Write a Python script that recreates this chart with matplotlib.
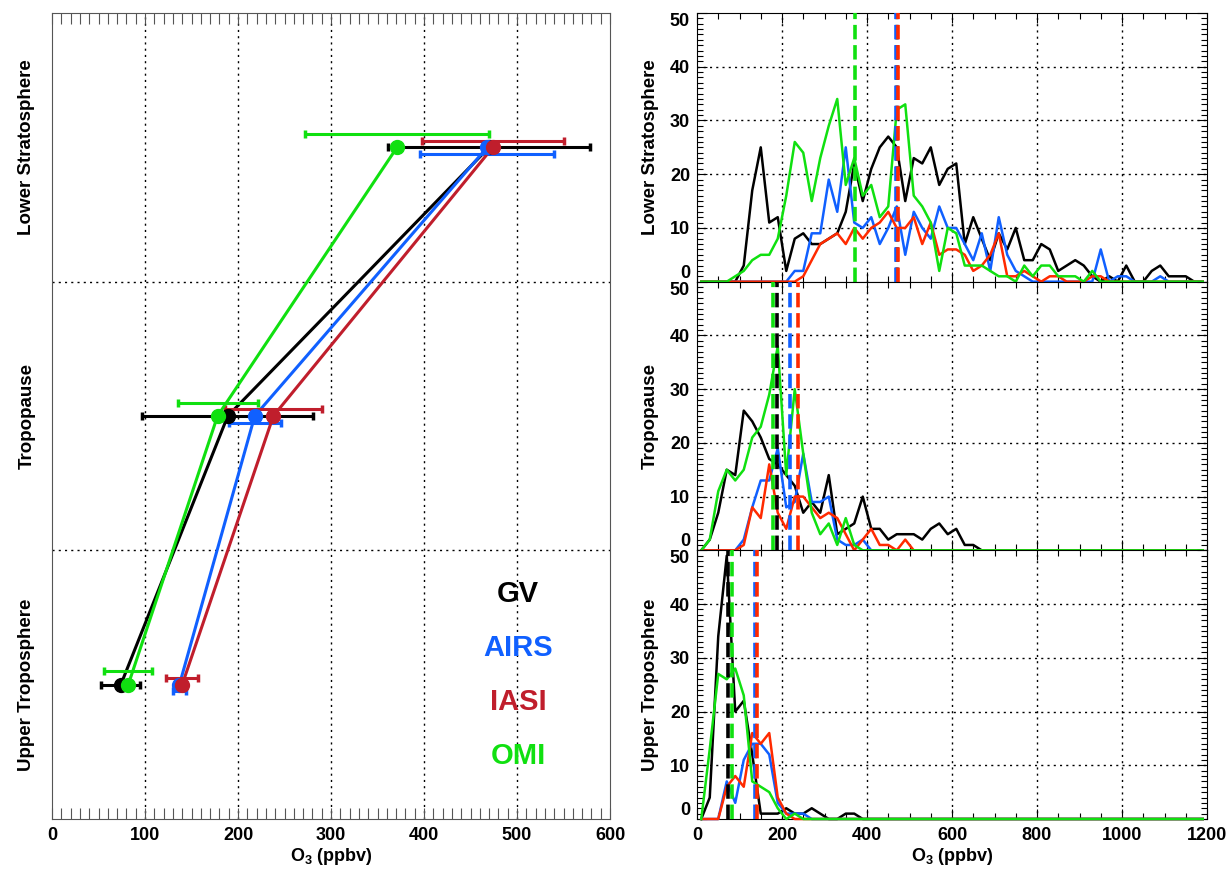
import matplotlib
matplotlib.use('Agg')
import matplotlib.pyplot as plt
from matplotlib.ticker import MultipleLocator

plt.rcParams['font.family'] = ['Liberation Sans', 'DejaVu Sans']
plt.rcParams['font.weight'] = 'bold'
plt.rcParams['axes.labelweight'] = 'bold'
plt.rcParams['mathtext.fontset'] = 'custom'
plt.rcParams['mathtext.rm'] = 'Liberation Sans:bold'
plt.rcParams['mathtext.bf'] = 'Liberation Sans:bold'
plt.rcParams['mathtext.default'] = 'bf'

# ---- data ----
instruments = ['GV', 'AIRS', 'IASI', 'OMI']
levels = ['Upper Troposphere', 'Tropopause', 'Lower Stratosphere']
level_pos = [0.5, 1.5, 2.5]

# mean and std of O3 per level (UT, Trop, LS)
mean_gv = [74, 189, 470]
mean_airs = [137, 218, 468]
mean_iasi = [140, 238, 474]
mean_omi = [82, 178, 371]
std_gv = [21, 92, 109]
std_airs = [7, 28, 72]
std_iasi = [17, 52, 76]
std_omi = [26, 43, 99]

# histogram bin centres (ppbv)
bins = [10, 30, 50, 70, 90, 110, 130, 150, 170, 190,
        210, 230, 250, 270, 290, 310, 330, 350, 370, 390,
        410, 430, 450, 470, 490, 510, 530, 550, 570, 590,
        610, 630, 650, 670, 690, 710, 730, 750, 770, 790,
        810, 830, 850, 870, 890, 910, 930, 950, 970, 990,
        1010, 1030, 1050, 1070, 1090, 1110, 1130, 1150, 1170, 1190]

ls_gv = [0, 0, 0, 0, 0, 3, 17, 25, 11, 12,
         2, 8, 9, 7, 7, 8, 9, 13, 22, 15,
         21, 25, 27, 25, 15, 23, 22, 25, 18, 21,
         22, 7, 12, 8, 4, 9, 6, 10, 4, 4,
         7, 6, 2, 3, 4, 3, 1, 0, 1, 0,
         3, 0, 0, 2, 3, 1, 1, 1, 0, 0]
ls_airs = [0, 0, 0, 0, 0, 0, 0, 0, 0, 0,
           0, 2, 2, 9, 9, 19, 13, 25, 11, 10,
           12, 7, 10, 14, 5, 13, 10, 8, 14, 10,
           10, 7, 4, 9, 2, 12, 5, 2, 1, 0,
           0, 0, 0, 0, 0, 0, 0, 6, 0, 1,
           1, 0, 0, 0, 1, 0, 0, 0, 0, 0]
ls_iasi = [0, 0, 0, 0, 0, 0, 0, 0, 0, 0,
           0, 0, 1, 4, 7, 8, 9, 7, 10, 8,
           10, 11, 13, 10, 10, 12, 7, 11, 5, 6,
           6, 5, 2, 3, 5, 9, 1, 1, 2, 1,
           0, 1, 1, 0, 0, 0, 1, 1, 0, 0,
           0, 0, 0, 0, 0, 0, 0, 0, 0, 0]
ls_omi = [0, 0, 0, 0, 1, 2, 4, 5, 5, 8,
          16, 26, 24, 15, 23, 29, 34, 18, 23, 16,
          18, 12, 14, 32, 33, 16, 14, 11, 2, 10,
          9, 3, 3, 3, 2, 1, 1, 0, 3, 1,
          3, 3, 1, 1, 1, 0, 2, 0, 0, 0,
          0, 0, 0, 0, 0, 0, 0, 0, 0, 0]

tp_gv = [0, 2, 7, 15, 14, 26, 24, 21, 17, 16,
         14, 12, 7, 9, 7, 14, 3, 4, 5, 10,
         4, 4, 2, 3, 3, 3, 2, 4, 5, 3,
         4, 1, 1, 0, 0, 0, 0, 0, 0, 0,
         0, 0, 0, 0, 0, 0, 0, 0, 0, 0,
         0, 0, 0, 0, 0, 0, 0, 0, 0, 0]
tp_airs = [0, 0, 0, 0, 0, 2, 8, 13, 13, 19,
           8, 9, 18, 9, 9, 10, 2, 1, 1, 2,
           0, 0, 0, 0, 0, 0, 0, 0, 0, 0,
           0, 0, 0, 0, 0, 0, 0, 0, 0, 0,
           0, 0, 0, 0, 0, 0, 0, 0, 0, 0,
           0, 0, 0, 0, 0, 0, 0, 0, 0, 0]
tp_iasi = [0, 0, 0, 0, 0, 1, 8, 6, 16, 7,
           4, 10, 10, 8, 6, 7, 6, 3, 0, 2,
           4, 1, 1, 0, 2, 0, 0, 0, 0, 0,
           0, 0, 0, 0, 0, 0, 0, 0, 0, 0,
           0, 0, 0, 0, 0, 0, 0, 0, 0, 0,
           0, 0, 0, 0, 0, 0, 0, 0, 0, 0]
tp_omi = [0, 2, 11, 15, 13, 15, 21, 23, 29, 38,
          14, 30, 18, 7, 3, 5, 1, 6, 1, 0,
          0, 0, 0, 0, 0, 0, 0, 0, 0, 0,
          0, 0, 0, 0, 0, 0, 0, 0, 0, 0,
          0, 0, 0, 0, 0, 0, 0, 0, 0, 0,
          0, 0, 0, 0, 0, 0, 0, 0, 0, 0]

ut_gv = [0, 4, 34, 49, 20, 22, 12, 1, 1, 1,
         2, 1, 1, 2, 1, 0, 0, 1, 1, 0,
         0, 0, 0, 0, 0, 0, 0, 0, 0, 0,
         0, 0, 0, 0, 0, 0, 0, 0, 0, 0,
         0, 0, 0, 0, 0, 0, 0, 0, 0, 0,
         0, 0, 0, 0, 0, 0, 0, 0, 0, 0]
ut_airs = [0, 0, 0, 7, 3, 11, 14, 14, 12, 3,
           1, 1, 1, 0, 0, 0, 0, 0, 0, 0,
           0, 0, 0, 0, 0, 0, 0, 0, 0, 0,
           0, 0, 0, 0, 0, 0, 0, 0, 0, 0,
           0, 0, 0, 0, 0, 0, 0, 0, 0, 0,
           0, 0, 0, 0, 0, 0, 0, 0, 0, 0]
ut_iasi = [0, 0, 0, 6, 8, 6, 16, 14, 16, 4,
           1, 0, 0, 0, 0, 0, 0, 0, 0, 0,
           0, 0, 0, 0, 0, 0, 0, 0, 0, 0,
           0, 0, 0, 0, 0, 0, 0, 0, 0, 0,
           0, 0, 0, 0, 0, 0, 0, 0, 0, 0,
           0, 0, 0, 0, 0, 0, 0, 0, 0, 0]
ut_omi = [0, 13, 27, 26, 28, 23, 7, 6, 5, 2,
          0, 1, 0, 0, 0, 0, 0, 0, 0, 0,
          0, 0, 0, 0, 0, 0, 0, 0, 0, 0,
          0, 0, 0, 0, 0, 0, 0, 0, 0, 0,
          0, 0, 0, 0, 0, 0, 0, 0, 0, 0,
          0, 0, 0, 0, 0, 0, 0, 0, 0, 0]

left_colors = ['black', '#1060ff', '#c01e2c', '#10e010']
right_colors = ['black', '#1060ff', '#ff2a00', '#10e010']
bar_offsets = [0.0, -0.025, 0.025, 0.05]

means = [mean_gv, mean_airs, mean_iasi, mean_omi]
stds = [std_gv, std_airs, std_iasi, std_omi]

xlabel = r'$\mathbf{O_3}$ (ppbv)'


def bold_ticks(a):
    for lab in a.get_xticklabels() + a.get_yticklabels():
        lab.set_fontweight('bold')


W, H = 1231, 873
fig = plt.figure(figsize=(W / 100, H / 100), dpi=100)

# ---- left panel: profile of means ----
ax = fig.add_axes([52 / W, 54 / H, 558 / W, 806 / H])
ax.set_xlim(0, 600)
ax.set_ylim(0, 3)
for i in range(4):
    ax.plot(means[i], level_pos, '-', color=left_colors[i], lw=2.2, zorder=3 + i)
    ax.errorbar(means[i], [p + bar_offsets[i] for p in level_pos], xerr=stds[i],
                fmt='none', ecolor=left_colors[i], elinewidth=2.2, capsize=3,
                capthick=2.5, zorder=3 + i)
    ax.plot(means[i], level_pos, 'o', color=left_colors[i], ms=10, zorder=8 + i)

for x in [100, 200, 300, 400, 500]:
    ax.axvline(x, color='black', ls=(0, (1.5, 3)), lw=1, zorder=1)
for y in [1, 2]:
    ax.axhline(y, color='black', ls=(0, (1.5, 3)), lw=1, zorder=1)

ax.xaxis.set_major_locator(MultipleLocator(100))
ax.xaxis.set_minor_locator(MultipleLocator(10))
ax.tick_params(axis='x', which='both', direction='in', top=True, length=8,
               width=0.8, color='#555555', labelsize=13, pad=6)
ax.set_yticks(level_pos)
ax.set_yticklabels(levels, rotation=90, va='center', fontsize=13.5)
ax.tick_params(axis='y', length=0, pad=12)
ax.set_xlabel(xlabel, fontsize=13, labelpad=1)
for sp in ax.spines.values():
    sp.set_color('#555555')
bold_ticks(ax)

legend_y = [0.837, 0.636, 0.435, 0.234]
for i in range(4):
    ax.text(501, legend_y[i], instruments[i], color=left_colors[i], fontsize=21,
            fontweight='bold', ha='center', va='center')

# ---- right panels: histograms ----
hists = [[ls_gv, ls_airs, ls_iasi, ls_omi],
         [tp_gv, tp_airs, tp_iasi, tp_omi],
         [ut_gv, ut_airs, ut_iasi, ut_omi]]
level_idx = [2, 1, 0]
ph = 806 / 3
for k in range(3):
    axr = fig.add_axes([697 / W, (54 + (2 - k) * ph) / H, 510 / W, ph / H])
    axr.set_xlim(0, 1200)
    axr.set_ylim(0, 50)
    for x in [200, 400, 600, 800, 1000]:
        axr.axvline(x, color='black', ls=(0, (1.5, 3)), lw=1, zorder=1)
    for y in [10, 20, 30, 40]:
        axr.axhline(y, color='black', ls=(0, (1.5, 3)), lw=1, zorder=1)
    for i in range(4):
        axr.plot(bins, hists[k][i], color=right_colors[i], lw=1.8, zorder=3 + i,
                 clip_on=False)
    lv = level_idx[k]
    for i in [0, 3, 1, 2]:
        axr.axvline(means[i][lv], color=right_colors[i], lw=2.6,
                    ls=(0, (4, 1.6)), zorder=8)
    axr.xaxis.set_major_locator(MultipleLocator(200))
    axr.xaxis.set_minor_locator(MultipleLocator(50))
    axr.yaxis.set_major_locator(MultipleLocator(10))
    axr.yaxis.set_minor_locator(MultipleLocator(1))
    axr.tick_params(which='both', direction='in', top=True, right=True,
                    labelsize=13, width=0.8)
    axr.tick_params(which='major', length=7)
    axr.tick_params(which='minor', length=4)
    axr.tick_params(axis='y', pad=5)
    axr.tick_params(axis='x', pad=6)
    axr.set_ylabel(levels[lv], fontsize=13.5, labelpad=8)
    fig.canvas.draw()
    for lab in axr.get_yticklabels():
        if lab.get_text() == '50':
            lab.set_va('top')
        elif lab.get_text() == '0':
            lab.set_va('bottom')
    if k < 2:
        axr.set_xticklabels([])
    else:
        axr.set_xlabel(xlabel, fontsize=13, labelpad=1)
    bold_ticks(axr)

fig.savefig('out.png', dpi=100)
